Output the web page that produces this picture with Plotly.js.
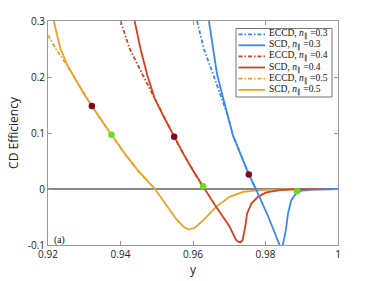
<!DOCTYPE html>
<html><head><meta charset="utf-8">
<script src="https://cdn.plot.ly/plotly-3.0.1.min.js"></script>
<style>html,body{margin:0;padding:0;background:#fff}#c{width:374px;height:281px}</style>
</head><body><div id="c"></div>
<script>
// ---- data ----
const blueSCD_x  = [0.9644,0.9652,0.9666,0.9680,0.9696,0.9710,0.9754,0.9775,0.9808,0.9839,0.9846,0.9856,0.9862,0.9871,0.9885,0.9900,0.9930,0.9970,1.0000];
const blueSCD_y  = [0.300,0.268,0.206,0.170,0.131,0.096,0.026,-0.002,-0.050,-0.100,-0.106,-0.074,-0.044,-0.020,-0.007,-0.003,-0.001,-0.0002,0];
const blueECCD_x = [0.9611,0.9630,0.9655,0.9672,0.9696,0.9710,0.9754,0.9773];
const blueECCD_y = [0.300,0.250,0.206,0.175,0.131,0.096,0.026,0.000];

const redSCD_x  = [0.9439,0.9455,0.9474,0.9494,0.9520,0.9548,0.9575,0.9600,0.9628,0.9660,0.9700,0.9718,0.9724,0.9731,0.9737,0.9741,0.9745,0.9749,0.9761,0.9779,0.9802,0.9839,0.9880,1.0000];
const redSCD_y  = [0.300,0.251,0.203,0.162,0.128,0.0935,0.061,0.033,0.004,-0.028,-0.066,-0.090,-0.094,-0.095,-0.091,-0.080,-0.064,-0.044,-0.026,-0.014,-0.006,-0.002,-0.0005,0];
const redECCD_x = [0.9400,0.9425,0.9462,0.9494,0.9520,0.9548,0.9575,0.9600,0.9630];
const redECCD_y = [0.300,0.251,0.203,0.162,0.128,0.0935,0.061,0.033,0.000];

const orgSCD_x  = [0.9216,0.9225,0.9234,0.9253,0.9274,0.9297,0.9321,0.9348,0.9375,0.9413,0.9452,0.9495,0.9520,0.9554,0.9575,0.9589,0.9605,0.9628,0.9665,0.9701,0.9738,0.9784,0.9850,1.0000];
const orgSCD_y  = [0.300,0.275,0.251,0.222,0.198,0.172,0.148,0.122,0.097,0.062,0.030,0.000,-0.023,-0.054,-0.068,-0.0725,-0.069,-0.056,-0.031,-0.014,-0.005,-0.002,-0.0005,0];
const orgECCD_x = [0.9200,0.9223,0.9246,0.9274,0.9297,0.9321,0.9348,0.9375,0.9413,0.9452,0.9495];
const orgECCD_y = [0.2745,0.249,0.227,0.198,0.172,0.148,0.122,0.097,0.062,0.030,0.000];

const darkMark_x  = [0.9321,0.9548,0.9754];
const darkMark_y  = [0.148,0.0935,0.026];
const greenMark_x = [0.9375,0.9628,0.9887];
const greenMark_y = [0.097,0.005,-0.004];

const xTicks = [0.92,0.94,0.96,0.98,1];
const xTickText = ['0.92','0.94','0.96','0.98','1'];
const yTicks = [-0.1,0,0.1,0.2,0.3];
const yTickText = ['-0.1','0','0.1','0.2','0.3'];

const seriesNames = ['ECCD, <i>n</i><sub>∥</sub> =0.3','SCD, <i>n</i><sub>∥</sub> =0.3','ECCD, <i>n</i><sub>∥</sub> =0.4','SCD, <i>n</i><sub>∥</sub> =0.4','ECCD, <i>n</i><sub>∥</sub> =0.5','SCD, <i>n</i><sub>∥</sub> =0.5'];
const seriesColors = ['#3a88f2','#3a88f2','#d9401a','#d9401a','#eba324','#eba324'];
const seriesDash = ['4px,2px,1.5px,2px','solid','4px,2px,1.5px,2px','solid','4px,2px,1.5px,2px','solid'];

const xs = [blueECCD_x,blueSCD_x,redECCD_x,redSCD_x,orgECCD_x,orgSCD_x];
const ys = [blueECCD_y,blueSCD_y,redECCD_y,redSCD_y,orgECCD_y,orgSCD_y];

const traces = [];
[4,5,2,3,0,1].forEach(i=>{
  traces.push({x:xs[i],y:ys[i],type:'scatter',mode:'lines',name:seriesNames[i],
    line:{color:seriesColors[i],width:1.8,dash:seriesDash[i]},showlegend:false,hoverinfo:'skip'});
});
traces.push({x:darkMark_x,y:darkMark_y,type:'scatter',mode:'markers',marker:{color:'#7a0a22',size:6.5},showlegend:false});
traces.push({x:greenMark_x,y:greenMark_y,type:'scatter',mode:'markers',marker:{color:'#66dd22',size:6.5},showlegend:false});

// manual legend (paper coordinates)
const L = 48, T = 21, W = 290, H = 224;
const px2x = p => (p-L)/W, py2y = p => 1-(p-T)/H;
const shapes = [{type:'rect',xref:'paper',yref:'paper',x0:px2x(236),x1:px2x(332),y0:py2y(97),y1:py2y(28.5),
  line:{color:'#777',width:1},fillcolor:'#fff',layer:'above'}];
const annotations = [];
const rowY = [34.3,45.3,56.3,67.5,78.7,89.9];
seriesNames.forEach((n,i)=>{
  shapes.push({type:'line',xref:'paper',yref:'paper',x0:px2x(238.5),x1:px2x(265),y0:py2y(rowY[i]),y1:py2y(rowY[i]),
    line:{color:seriesColors[i],width:1.8,dash:seriesDash[i]},layer:'above'});
  annotations.push({xref:'paper',yref:'paper',x:px2x(266.5),y:py2y(rowY[i]),xanchor:'left',yanchor:'middle',
    text:n,showarrow:false,font:{family:'Liberation Serif, Times New Roman, serif',size:9.5,color:'#111'}});
});
annotations.push({xref:'x',yref:'y',x:0.9212,y:-0.092,xanchor:'left',yanchor:'middle',text:'(a)',showarrow:false,
  font:{family:'Liberation Serif, serif',size:9.5,color:'#111'}});

const axisCommon = {showgrid:false,showline:true,linecolor:'#999',linewidth:1,mirror:'ticks',ticks:'inside',ticklen:4,
  tickcolor:'#999',tickfont:{family:'Open Sans, sans-serif',size:10,color:'#222'}};

const layout = {
  width:374,height:281,margin:{l:48,r:36,t:21,b:36},paper_bgcolor:'#fff',plot_bgcolor:'#fff',
  xaxis:Object.assign({},axisCommon,{range:[0.92,1],tickvals:xTicks,ticktext:xTickText,zeroline:false,
    title:{text:'y',font:{family:'Open Sans, sans-serif',size:12,color:'#222'},standoff:4}}),
  yaxis:Object.assign({},axisCommon,{range:[-0.1,0.3],tickvals:yTicks,ticktext:yTickText,zeroline:true,
    zerolinecolor:'#888',zerolinewidth:1.2,
    title:{text:'CD Efficiency',font:{family:'Open Sans, sans-serif',size:12,color:'#222'},standoff:6}}),
  shapes:shapes,annotations:annotations,showlegend:false
};
Plotly.newPlot('c',traces,layout,{staticPlot:true,displayModeBar:false});
</script></body></html>
